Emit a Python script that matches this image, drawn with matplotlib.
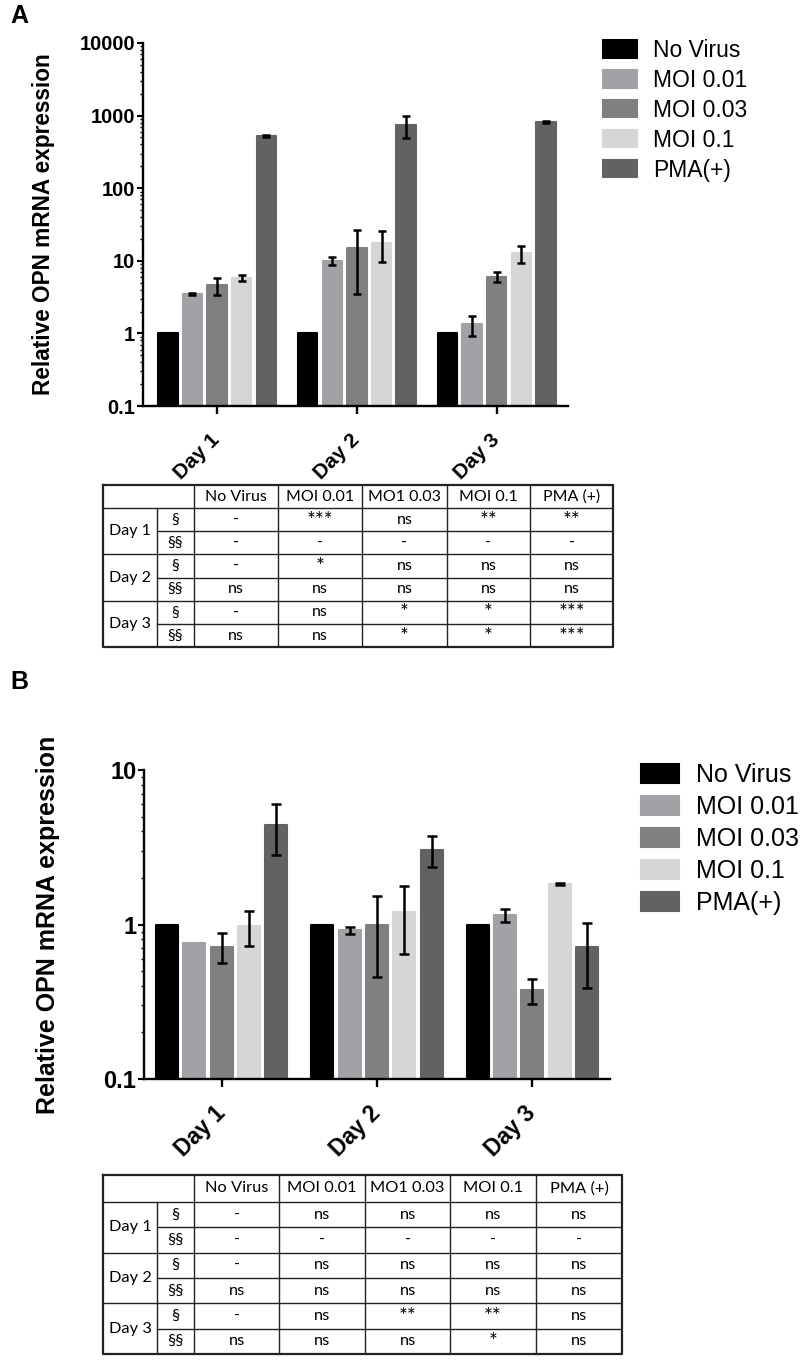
import numpy as np
import matplotlib
matplotlib.use('Agg')
import matplotlib.pyplot as plt
from matplotlib.ticker import NullFormatter, LogLocator

plt.rcParams['font.family'] = ['Liberation Sans', 'DejaVu Sans']

days = ['Day 1', 'Day 2', 'Day 3']
groups = ['No Virus', 'MOI 0.01', 'MOI 0.03', 'MOI 0.1', 'PMA(+)']
colors = ['#000000', '#a2a2a6', '#808080', '#d6d6d6', '#626262']

# panel A: mean and error per group, over the three days
a_mean = [[1, 1, 1],
          [3.5, 10, 1.33],
          [4.6, 15, 6.0],
          [5.8, 17.6, 12.7],
          [525, 740, 825]]
a_err = [[0, 0, 0],
         [0.12, 1.2, 0.42],
         [1.2, 11.5, 0.9],
         [0.6, 8, 3.3],
         [15, 250, 30]]
a_yticks = [0.1, 1, 10, 100, 1000, 10000]

# panel B
b_mean = [[1, 1, 1],
          [0.76, 0.92, 1.15],
          [0.72, 0.99, 0.377],
          [0.98, 1.21, 1.83],
          [4.4, 3.04, 0.71]]
b_err = [[0, 0, 0],
         [0, 0.05, 0.11],
         [0.16, 0.53, 0.07],
         [0.25, 0.57, 0.04],
         [1.6, 0.68, 0.32]]
b_yticks = [0.1, 1, 10]

table_cols = ['No Virus', 'MOI 0.01', 'MO1 0.03', 'MOI 0.1', 'PMA (+)']
table_days = ['Day 1', 'Day 2', 'Day 3']
table_marks = ['§', '§§']
a_table = [['-', '***', 'ns', '**', '**'],
           ['-', '-', '-', '-', '-'],
           ['-', '*', 'ns', 'ns', 'ns'],
           ['ns', 'ns', 'ns', 'ns', 'ns'],
           ['-', 'ns', '*', '*', '***'],
           ['ns', 'ns', '*', '*', '***']]
b_table = [['-', 'ns', 'ns', 'ns', 'ns'],
           ['-', '-', '-', '-', '-'],
           ['-', 'ns', 'ns', 'ns', 'ns'],
           ['ns', 'ns', 'ns', 'ns', 'ns'],
           ['-', 'ns', '**', '**', 'ns'],
           ['ns', 'ns', 'ns', '*', 'ns']]

W, H = 800, 1363
fig = plt.figure(figsize=(W / 100, H / 100), dpi=100)


def px_axes(x0, y0, x1, y1):
    return fig.add_axes([x0 / W, 1 - y1 / H, (x1 - x0) / W, (y1 - y0) / H])


def bar_panel(ax, means, errs, yticks, xlim, fs_tick, fs_label, fs_day, cap):
    x = np.arange(len(days))
    pitch, width = 0.176, 0.14
    ax.set_yscale('log')
    handles = []
    for i in range(len(groups)):
        xs = x + (i - 2) * pitch
        m = np.array(means[i], dtype=float)
        e = np.array(errs[i], dtype=float)
        b = ax.bar(xs, m, width, color=colors[i], edgecolor=colors[i],
                   linewidth=1.5, joinstyle='round', zorder=2)
        ok = e > 0
        if ok.any():
            ax.errorbar(xs[ok], m[ok], yerr=e[ok], fmt='none', ecolor='black',
                        elinewidth=1.8, capsize=cap, capthick=1.8, zorder=3)
        handles.append(b)
    ax.set_ylim(yticks[0], yticks[-1])
    ax.set_xlim(*xlim)
    for s in ['top', 'right']:
        ax.spines[s].set_visible(False)
    for s in ['left', 'bottom']:
        ax.spines[s].set_linewidth(1.7)
    ax.set_yticks(yticks)
    ax.set_yticklabels(['%g' % t for t in yticks], fontweight='bold', fontsize=fs_tick)
    ax.yaxis.set_minor_locator(LogLocator(base=10, subs=np.arange(2, 10)))
    ax.yaxis.set_minor_formatter(NullFormatter())
    ax.tick_params(axis='y', which='major', length=4, width=1.5, pad=1.5)
    ax.tick_params(axis='y', which='minor', length=2.5, width=1)
    ax.set_xticks(x)
    ax.set_xticklabels(days, rotation=45, ha='right', va='center',
                       rotation_mode='anchor', fontweight='bold', fontsize=fs_day)
    ax.tick_params(axis='x', length=6, width=1.7, pad=16)
    ax.set_ylabel('Relative OPN mRNA expression', fontweight='bold', fontsize=fs_label)
    return handles


def draw_table(x_edges, y0, head_h, row_h, cells, fs):
    n_rows = len(cells)
    y1 = y0 + head_h + n_rows * row_h
    ax = px_axes(x_edges[0], y0, x_edges[-1], y1)
    ax.set_xlim(x_edges[0], x_edges[-1])
    ax.set_ylim(y1, y0)
    ax.axis('off')
    lw_in, lw_out = 1.0, 1.6
    lc = '#222222'
    # outer border
    ax.plot([x_edges[0], x_edges[-1], x_edges[-1], x_edges[0], x_edges[0]],
            [y0, y0, y1, y1, y0], color=lc, lw=lw_out, clip_on=False)
    # vertical lines
    for xe in x_edges[2:-1]:
        ax.plot([xe, xe], [y0, y1], color=lc, lw=lw_in)
    ax.plot([x_edges[1], x_edges[1]], [y0 + head_h, y1], color=lc, lw=lw_in)
    # horizontal lines
    for r in range(n_rows):
        yy = y0 + head_h + r * row_h
        x_start = x_edges[0] if r % 2 == 0 else x_edges[1]
        ax.plot([x_start, x_edges[-1]], [yy, yy], color=lc, lw=lw_in)
    tkw = dict(ha='center', va='center', family=['Lato', 'DejaVu Sans'])
    for j, name in enumerate(table_cols):
        ax.text((x_edges[j + 2] + x_edges[j + 3]) / 2, y0 + head_h / 2, name,
                fontsize=fs, **tkw)
    for d, day in enumerate(table_days):
        ax.text((x_edges[0] + x_edges[1]) / 2, y0 + head_h + (2 * d + 1) * row_h, day,
                fontsize=fs, **tkw)
    for r in range(n_rows):
        yc = y0 + head_h + (r + 0.5) * row_h
        ax.text((x_edges[1] + x_edges[2]) / 2, yc, table_marks[r % 2], fontsize=fs, **tkw)
        for j, val in enumerate(cells[r]):
            if '*' in val:
                ax.text((x_edges[j + 2] + x_edges[j + 3]) / 2, yc + 1, val,
                        fontsize=fs * 1.3, **tkw)
            else:
                ax.text((x_edges[j + 2] + x_edges[j + 3]) / 2, yc, val,
                        fontsize=fs, **tkw)


# ---- panel A ----
axA = px_axes(143, 43, 568, 406)
hA = bar_panel(axA, a_mean, a_err, a_yticks, (-0.53, 2.51), 14.5, 16.3, 15, 3)
axA.yaxis.set_label_coords(-0.207, 0.5)
fig.legend(hA, groups, loc='upper left', bbox_to_anchor=(603 / W, 1 - 39 / H),
           frameon=False, fontsize=16.5, handlelength=1.48, handleheight=0.79,
           labelspacing=0.3, handletextpad=0.7, borderpad=0, borderaxespad=0)
fig.text(10 / W, 1 - 16 / H, 'A', fontsize=18, fontweight='bold', va='center')

draw_table([103, 157, 194, 278, 362, 447, 530, 613], 485, 23, 23.2, a_table, 11.5)

# ---- panel B ----
axB = px_axes(144, 770, 610, 1079)
hB = bar_panel(axB, b_mean, b_err, b_yticks, (-0.5, 2.5), 17, 18, 16.5, 3.5)
axB.yaxis.set_label_coords(-0.18, 0.5)
fig.legend(hB, groups, loc='upper left', bbox_to_anchor=(641 / W, 1 - 763 / H),
           frameon=False, fontsize=18, handlelength=1.5, handleheight=0.8,
           labelspacing=0.32, handletextpad=0.7, borderpad=0, borderaxespad=0)
fig.text(10 / W, 1 - 682 / H, 'B', fontsize=18, fontweight='bold', va='center')

draw_table([103, 157, 194, 279, 365, 450, 536, 622], 1175, 27, 25.3, b_table, 11.8)

fig.savefig('out.png', dpi=100, facecolor='white')
